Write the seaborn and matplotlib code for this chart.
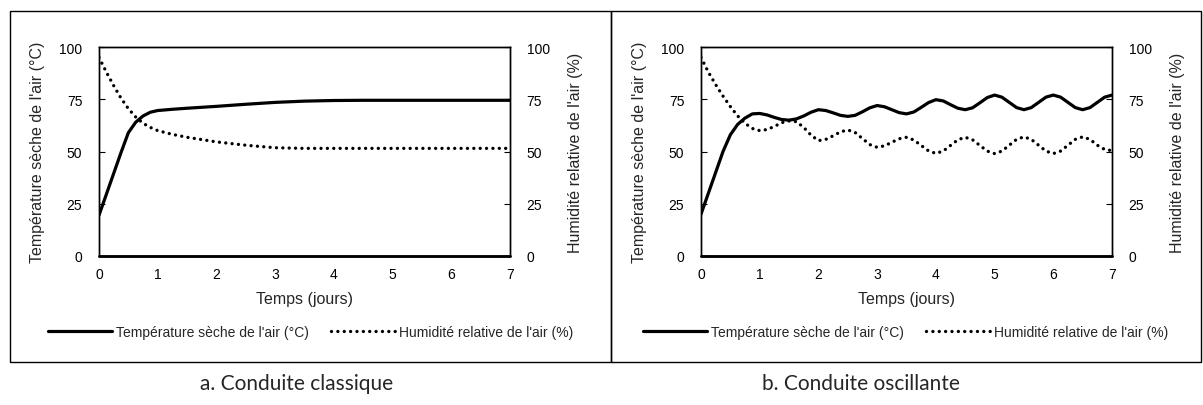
import matplotlib
matplotlib.use("Agg")
import matplotlib.pyplot as plt
import seaborn as sns
import pandas as pd
from matplotlib.patches import Rectangle

# a. Conduite classique
t_a = [0, 0.125, 0.25, 0.375, 0.5, 0.625, 0.75, 0.875, 1.0, 1.25, 1.5, 2, 2.5, 3, 3.5, 4, 4.5, 5, 6, 7]
temp_a = [19.5, 29.5, 39.5, 49.5, 59, 64, 67, 68.8, 69.6, 70.2, 70.7, 71.6, 72.6, 73.5, 74.1, 74.4, 74.5,
          74.5, 74.5, 74.5]
hum_a = [95, 88, 81.5, 75.5, 70.5, 66.5, 63.5, 61.5, 60, 58.2, 56.8, 54.6, 53, 51.8, 51.5, 51.5, 51.5,
         51.5, 51.5, 51.5]

# b. Conduite oscillante
t_b = [0, 0.125, 0.25, 0.375, 0.5, 0.625, 0.75, 0.875, 1.0, 1.125, 1.25, 1.375, 1.5, 1.625, 1.75, 1.875,
       2.0, 2.125, 2.25, 2.375, 2.5, 2.625, 2.75, 2.875, 3.0, 3.125, 3.25, 3.375, 3.5, 3.625, 3.75, 3.875,
       4.0, 4.125, 4.25, 4.375, 4.5, 4.625, 4.75, 4.875, 5.0, 5.125, 5.25, 5.375, 5.5, 5.625, 5.75, 5.875,
       6.0, 6.125, 6.25, 6.375, 6.5, 6.625, 6.75, 6.875, 7.0]
temp_b = [20, 30, 40, 50, 58, 63, 66, 68, 68.2, 67.5, 66.3, 65.3, 65, 65.6, 67, 68.8,
          70, 69.6, 68.5, 67.3, 66.8, 67.3, 69, 70.9, 72, 71.4, 70, 68.6, 68, 68.9, 71.1, 73.4,
          74.8, 74.2, 72.4, 70.7, 70, 70.9, 73.3, 75.8, 77, 76, 73.5, 71, 70, 71, 73.5, 76,
          77, 76, 73.5, 71, 70, 71, 73.5, 76, 77]
hum_b = [95, 88, 82, 76.5, 71.5, 67, 63.5, 61, 60, 60.5, 62, 63.8, 64.6, 64.3, 61.5, 57.8,
         55.2, 55.8, 57.5, 59.4, 60.3, 59.1, 56.2, 53.3, 52, 52.7, 54.4, 56.1, 56.8, 55.5, 52.9, 50.3,
         49.1, 50.2, 52.9, 55.6, 56.8, 55.6, 52.9, 50.2, 49, 50.2, 53, 55.8, 57, 55.8, 53, 50.2,
         49, 50.2, 53, 55.8, 57, 55.8, 53, 51, 50.4]

captions = ["a. Conduite classique", "b. Conduite oscillante"]
lab_temp = "Température sèche de l'air (°C)"
lab_hum = "Humidité relative de l'air (%)"
ticks_y = [0, 25, 50, 75, 100]
ticks_x = [0, 1, 2, 3, 4, 5, 6, 7]

sns.set_style("white")
plt.rcParams['font.family'] = ['Liberation Sans', 'DejaVu Sans']

W, H = 1203, 406
fig = plt.figure(figsize=(W / 100, H / 100), dpi=100)

# data, axes left px, frame left/right px, caption centre px
panels = [
    (t_a, temp_a, hum_a, 99, 10, 611, 297),
    (t_b, temp_b, hum_b, 701, 611, 1201, 861),
]

for i, (t, temp, hum, ax_left, box_l, box_r, cap_x) in enumerate(panels):
    # panel frame
    fig.patches.append(Rectangle((box_l / W, 1 - 363 / H), (box_r - box_l) / W, (363 - 12) / H,
                                 transform=fig.transFigure, fill=False, edgecolor='black', lw=1.0))

    ax = fig.add_axes([ax_left / W, 1 - 257 / H, 411 / W, 209 / H])
    ax2 = ax.twinx()
    df = pd.DataFrame({'t': t, 'temp': temp, 'hum': hum})

    sns.lineplot(data=df, x='t', y='temp', ax=ax, color='black', lw=2.3, label=lab_temp, legend=False)
    sns.lineplot(data=df, x='t', y='hum', ax=ax2, color='black', lw=2.4, label=lab_hum, legend=False,
                 linestyle=(0, (0.01, 1.9)), dash_capstyle='round')
    ax.plot([0, 7], [0, 0], color='black', lw=2.0, clip_on=False, zorder=5)

    for a in (ax, ax2):
        a.set_xlim(0, 7)
        a.set_ylim(0, 100)
        a.set_yticks(ticks_y)
        for s in a.spines.values():
            s.set_color('black')
            s.set_linewidth(1.0)
    ax.set_xticks(ticks_x)
    ax.tick_params(axis='both', direction='in', length=4, width=0.8, labelsize=10, pad=8, colors='black')
    ax.tick_params(axis='y', pad=12)
    ax2.tick_params(axis='y', direction='in', length=4, width=0.8, labelsize=10, pad=12, colors='black')

    ax.set_xlabel("Temps (jours)", fontsize=11.5, labelpad=7)
    ax.set_ylabel(lab_temp, fontsize=11.5, labelpad=10)
    ax2.set_ylabel(lab_hum, fontsize=11.5, labelpad=13)

    h1, l1 = ax.get_legend_handles_labels()
    h2, l2 = ax2.get_legend_handles_labels()
    cx = (box_l + box_r) / 2 / W
    fig.legend(h1 + h2, l1 + l2, loc='center', bbox_to_anchor=(cx, 1 - 333 / H), ncol=2,
               frameon=False, fontsize=10, handlelength=4.6, columnspacing=1.6, handletextpad=0.3)

    fig.text(cap_x / W, 1 - 384 / H, captions[i], ha='center', va='center',
             fontsize=15, family=['Lato', 'DejaVu Sans'])

plt.savefig('out.png', dpi=100)
